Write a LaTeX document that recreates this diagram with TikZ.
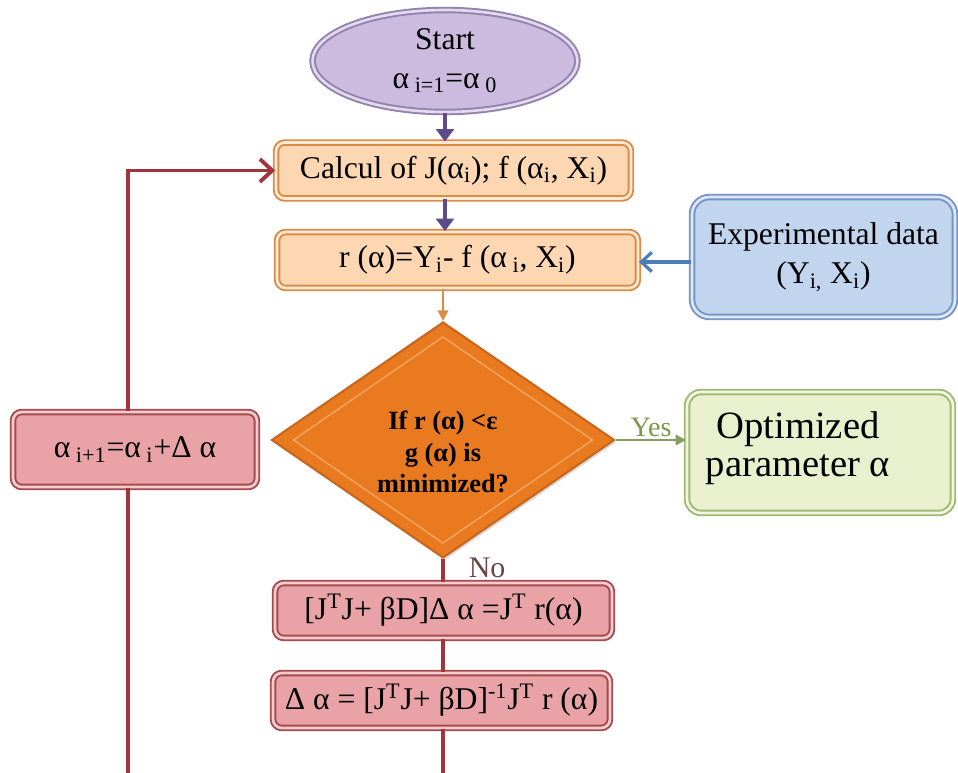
\documentclass[tikz,border=0pt]{standalone}
\usepackage{fontspec}
\setmainfont{Liberation Serif}
\usetikzlibrary{shapes.geometric,shadows,arrows.meta,calc}
\definecolor{purpfill}{HTML}{CDBADF}
\definecolor{purpline}{HTML}{9282AE}
\definecolor{purparrow}{HTML}{5E4B8C}
\definecolor{peach}{HTML}{FCD7B2}
\definecolor{peachline}{HTML}{DB8C44}
\definecolor{bluefill}{HTML}{C1D5EE}
\definecolor{blueline}{HTML}{7595C4}
\definecolor{bluearrow}{HTML}{4A7EBB}
\definecolor{orfill}{HTML}{E97A20}
\definecolor{orline}{HTML}{C9661C}
\definecolor{orinner}{HTML}{F4A660}
\definecolor{greenfill}{HTML}{E8F0CD}
\definecolor{greenline}{HTML}{9FB872}
\definecolor{greentext}{HTML}{7A9A48}
\definecolor{pinkfill}{HTML}{E9A3A6}
\definecolor{pinkline}{HTML}{A54A50}
\definecolor{darkred}{HTML}{A3343B}
\definecolor{notext}{HTML}{6B4545}
\tikzset{
  boxbase/.style={rectangle, rounded corners=5pt, line width=1.1pt, double distance=1.5pt, inner sep=0pt, align=center,
    font=\fontsize{18}{20.5}\selectfont,
    drop shadow={shadow xshift=1.2pt, shadow yshift=-1.2pt, opacity=0.3}},
  peachbox/.style={boxbase, draw=peachline, double=peach!55!white, fill=peach},
  pinkbox/.style={boxbase, draw=pinkline, double=pinkfill!55!white, fill=pinkfill},
  bluebox/.style={boxbase, draw=blueline, double=bluefill!55!white, fill=bluefill, rounded corners=10pt},
  greenbox/.style={boxbase, draw=greenline, double=greenfill!55!white, fill=greenfill, rounded corners=8pt},
  parrow/.style={draw=purparrow, line width=2.4pt, -{Triangle[length=7pt,width=10pt]}},
  redline/.style={draw=darkred, line width=2.2pt},
  redarrow/.style={redline, -{Straight Barb[length=7pt,width=13pt,line width=2.2pt]}},
  bluearr/.style={draw=bluearrow, line width=1.8pt, -{Straight Barb[length=6pt,width=11pt,line width=1.8pt]}},
  greenarr/.style={draw=greenline!85!black, line width=1.4pt, -{Triangle[length=6pt,width=6pt]}},
  orarr/.style={draw=peachline, line width=1.2pt, -{Triangle[length=6pt,width=6pt]}}
}
\begin{document}
\begin{tikzpicture}[x=0.02cm,y=-0.02cm]
\useasboundingbox (0,0) rectangle (958,773);
% nodes
\node[ellipse, draw=purpline, double=purpfill!55!white, double distance=1.5pt, fill=purpfill, line width=1.1pt,
  minimum width=5.3cm, minimum height=2.04cm,
  inner sep=0pt, align=center, font=\fontsize{18}{21}\selectfont,
  drop shadow={shadow xshift=1.2pt, shadow yshift=-1.2pt, opacity=0.3}] (start) at (445,61)
  {Start\\[1pt]α\textsubscript{ i=1}=α\textsubscript{ 0}};
\node[peachbox, minimum width=7.1cm, minimum height=1.12cm] (calc) at (453.5,170.5)
  {Calcul of J(α\textsubscript{i}); f (α\textsubscript{i}, X\textsubscript{i})};
\node[peachbox, minimum width=7.22cm, minimum height=1.12cm] (rbox) at (457.5,260)
  {r (α)=Y\textsubscript{i}- f (α\textsubscript{ i}, X\textsubscript{i})};
\node[bluebox, minimum width=5.26cm, minimum height=2.4cm] (exp) at (823.5,257)
  {Experimental data\\[2pt](Y\textsubscript{i,} X\textsubscript{i})};
\node[diamond, draw=orline, fill=orfill, line width=1.2pt, minimum width=6.86cm, minimum height=4.72cm,
  inner sep=0pt,
  drop shadow={shadow xshift=1.2pt, shadow yshift=-1.2pt, opacity=0.3}] (dia) at (443,440) {};
\draw[orinner, line width=0.8pt]
  ($(dia.north)+(0,16)$) -- ($(dia.east)+(-23,0)$) -- ($(dia.south)+(0,-16)$) -- ($(dia.west)+(23,0)$) -- cycle;
\node[align=center, font=\fontsize{15}{17.8}\selectfont\bfseries] (diatext) at (443,452)
  {If r (α) <ε\\g (α) is\\minimized?};
\node[greenbox, minimum width=5.32cm, minimum height=2.42cm] (opt) at (820,452.5) {};
\node[align=center, font=\fontsize{22}{21.5}\selectfont] (opttext) at (798,448)
  {Optimized\\parameter α};
\node[pinkbox, minimum width=4.88cm, minimum height=1.5cm] (upd) at (135,449.5)
  {α\textsubscript{ i+1}=α\textsubscript{ i}+Δ α};
\node[pinkbox, minimum width=6.74cm, minimum height=1.1cm] (sys) at (443.5,610.5)
  {[J\textsuperscript{T}J+ βD]Δ α =J\textsuperscript{T} r(α)};
\node[pinkbox, minimum width=6.74cm, minimum height=1.1cm] (sol) at (441.5,700.5)
  {Δ α = [J\textsuperscript{T}J+ βD]\textsuperscript{-1}J\textsuperscript{T} r (α)};
\node[text=greentext, font=\fontsize{16}{18}\selectfont] (yes) at (651,427) {Yes};
\node[text=notext, font=\fontsize{17}{19}\selectfont] (no) at (487,568) {No};
\coordinate (bm) at (443,773);
\coordinate (bl) at (128,773);
% connectors
\draw[parrow] (start.south) -- (start.south |- calc.north);
\draw[parrow] (start.south |- calc.south) -- (start.south |- rbox.north);
\draw[orarr] (dia.north |- rbox.south) -- (dia.north);
\draw[bluearr] (exp.west |- 0,262) -- (rbox.east |- 0,262);
\draw[greenarr] (dia.east) -- (dia.east -| opt.west);
\draw[redline] (dia.south) -- (dia.south |- sys.north);
\draw[redline] (dia.south |- sys.south) -- (dia.south |- sol.north);
\draw[redline] (dia.south |- sol.south) -- (bm);
\draw[redarrow] ([xshift=-0.14cm]upd.north) |- (calc.west);
\draw[redline] ([xshift=-0.14cm]upd.south) -- (bl);
\end{tikzpicture}
\end{document}
